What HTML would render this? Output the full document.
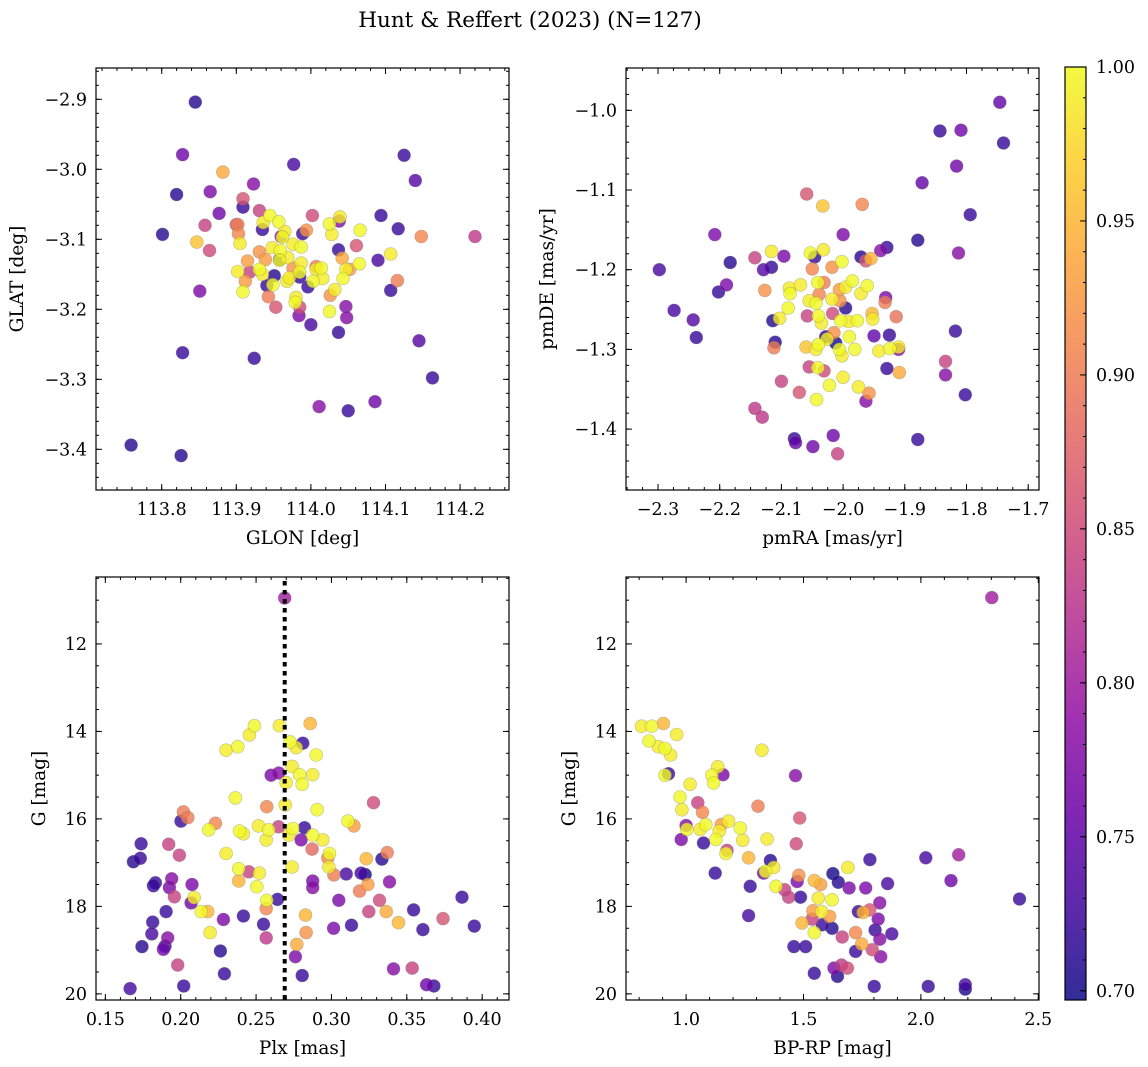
<!DOCTYPE html>
<html><head><meta charset="utf-8"><title>Hunt & Reffert (2023)</title>
<style>
html,body{margin:0;padding:0;background:#fff;}
svg{display:block;font-family:"DejaVu Serif","Liberation Serif",serif;}
</style></head>
<body>
<svg id="fig" width="1148" height="1067" viewBox="0 0 1148 1067" xmlns="http://www.w3.org/2000/svg">
<defs>
<linearGradient id="plasma" x1="0" y1="1" x2="0" y2="0">
<stop offset="0" stop-color="#0d0887"/><stop offset="0.1" stop-color="#41049d"/><stop offset="0.2" stop-color="#6a00a8"/><stop offset="0.3" stop-color="#8f0da4"/><stop offset="0.4" stop-color="#b12a90"/><stop offset="0.5" stop-color="#cc4778"/><stop offset="0.6" stop-color="#e16462"/><stop offset="0.7" stop-color="#f2844b"/><stop offset="0.8" stop-color="#fca636"/><stop offset="0.9" stop-color="#fcce25"/><stop offset="1" stop-color="#f0f921"/>
</linearGradient>
</defs>
<text x="530" y="27" font-size="21.5" text-anchor="middle">Hunt &amp; Reffert (2023) (N=127)</text>
</svg>
<script>
// ---- Panel 1: GLON vs GLAT ----
const glon = [113.845,113.820,113.801,113.909,113.935,113.977,114.094,114.117,114.125,114.140,114.090,114.107,113.996,113.951,113.941,113.958,114.037,113.989,113.828,113.924,113.759,113.826,114.050,114.037,114.000,114.145,114.163,113.985,
113.828,113.865,113.877,113.923,113.851,114.011,114.086,114.047,114.048,113.984,114.038,113.960,
113.858,113.864,113.909,113.931,114.002,114.061,113.953,113.900,114.220,113.985,113.918,
113.882,113.847,113.902,113.903,113.915,113.931,113.939,113.943,113.912,113.994,114.042,114.052,114.148,114.116,114.026,113.976,114.007,
113.905,113.945,113.936,113.957,113.965,113.962,113.976,113.987,113.948,113.959,113.969,113.958,113.987,113.985,113.902,113.931,113.935,113.949,113.968,114.003,114.007,114.014,114.016,114.043,114.047,114.065,114.107,114.066,114.028,114.025,114.039,113.909,113.980,113.979,114.032,114.025,113.971];
const glat = [-2.904,-3.036,-3.093,-3.054,-3.086,-2.993,-3.066,-3.085,-2.980,-3.016,-3.130,-3.173,-3.168,-3.152,-3.166,-3.129,-3.115,-3.092,-3.262,-3.270,-3.394,-3.409,-3.345,-3.233,-3.222,-3.245,-3.298,-3.154,
-2.979,-3.032,-3.063,-3.021,-3.174,-3.339,-3.332,-3.196,-3.212,-3.209,-3.074,-3.096,
-3.080,-3.116,-3.042,-3.059,-3.066,-3.109,-3.197,-3.079,-3.096,-3.197,-3.147,
-3.004,-3.104,-3.079,-3.092,-3.131,-3.118,-3.129,-3.182,-3.160,-3.087,-3.127,-3.143,-3.096,-3.159,-3.180,-3.141,-3.139,
-3.106,-3.066,-3.076,-3.075,-3.089,-3.097,-3.107,-3.111,-3.112,-3.116,-3.126,-3.130,-3.134,-3.147,-3.146,-3.143,-3.150,-3.165,-3.160,-3.160,-3.143,-3.141,-3.156,-3.156,-3.143,-3.135,-3.121,-3.087,-3.093,-3.078,-3.068,-3.175,-3.183,-3.190,-3.172,-3.203,-3.155];
const prob1 = [0.71,0.71,0.71,0.72,0.72,0.73,0.72,0.72,0.72,0.74,0.73,0.72,0.72,0.71,0.72,0.71,0.72,0.72,0.72,0.72,0.71,0.71,0.72,0.72,0.73,0.74,0.72,0.72,
0.76,0.77,0.76,0.78,0.77,0.78,0.76,0.78,0.78,0.77,0.78,0.79,
0.84,0.85,0.86,0.84,0.85,0.86,0.86,0.87,0.83,0.85,0.84,
0.94,0.96,0.90,0.91,0.93,0.92,0.93,0.90,0.93,0.92,0.94,0.93,0.91,0.90,0.92,0.92,0.90,
0.99,1.0,0.99,1.0,0.99,1.0,0.99,1.0,0.99,1.0,0.99,1.0,0.99,1.0,0.99,1.0,0.99,1.0,0.99,1.0,0.99,1.0,0.99,1.0,0.99,1.0,0.99,1.0,0.99,1.0,0.99,1.0,0.99,1.0,0.99,1.0,0.99];

// ---- Panel 2: pmRA vs pmDE ----
const pmra = [-2.116,-2.053,-2.032,-2.002,-2.087,-2.086,-2.069,-2.041,-1.996,-1.985,-1.971,-1.961,-2.055,-2.044,-2.018,-2.089,-2.103,-2.040,-2.035,-2.004,-1.991,-1.977,-1.952,-1.990,-2.026,-2.040,-2.044,-2.006,-2.002,-1.981,-1.942,-1.924,-1.910,-2.041,-2.000,-2.022,-1.975,-2.043,
-2.033,-1.969,-2.059,-2.127,-2.050,-2.018,-2.031,-2.039,-2.006,-2.005,-1.953,-1.932,-1.914,-2.015,-2.060,-2.112,-1.909,-1.958,-1.955,
-2.143,-2.058,-2.017,-2.055,-2.031,-2.100,-2.071,-2.143,-2.131,-1.834,-2.009,-1.963,
-2.208,-2.183,-2.189,-2.202,-2.274,-2.243,-2.238,-2.298,-2.129,-2.116,-2.096,-2.046,-2.000,-1.971,-1.929,-1.939,-1.879,-1.996,-1.931,-2.114,-2.110,-2.028,-2.012,-1.950,-1.925,-1.929,-1.910,-1.963,-2.079,-2.077,-2.049,-2.016,-1.879,-1.802,-1.818,-1.834,-1.813,-1.872,-1.843,-1.809,-1.816,-1.794,-1.746,-1.740];
const pmde = [-1.177,-1.179,-1.175,-1.190,-1.223,-1.230,-1.219,-1.216,-1.222,-1.214,-1.230,-1.220,-1.239,-1.242,-1.237,-1.248,-1.261,-1.258,-1.267,-1.264,-1.265,-1.264,-1.262,-1.284,-1.287,-1.294,-1.300,-1.300,-1.308,-1.300,-1.302,-1.299,-1.297,-1.323,-1.335,-1.345,-1.347,-1.363,
-1.120,-1.118,-1.105,-1.226,-1.199,-1.197,-1.216,-1.231,-1.225,-1.239,-1.255,-1.241,-1.259,-1.279,-1.297,-1.298,-1.329,-1.355,-1.186,
-1.185,-1.258,-1.255,-1.322,-1.327,-1.340,-1.354,-1.374,-1.385,-1.315,-1.431,-1.189,
-1.156,-1.191,-1.219,-1.228,-1.251,-1.263,-1.285,-1.200,-1.200,-1.197,-1.183,-1.184,-1.156,-1.184,-1.172,-1.176,-1.163,-1.248,-1.235,-1.264,-1.291,-1.284,-1.292,-1.283,-1.282,-1.324,-1.300,-1.365,-1.412,-1.417,-1.422,-1.408,-1.413,-1.357,-1.277,-1.332,-1.179,-1.091,-1.026,-1.025,-1.070,-1.131,-0.990,-1.041];
const prob2 = [0.99,1.0,0.99,1.0,0.99,1.0,0.99,1.0,0.99,1.0,0.99,1.0,0.99,1.0,0.99,1.0,0.99,1.0,0.99,1.0,0.99,1.0,0.99,1.0,0.99,1.0,0.99,1.0,0.99,1.0,0.99,1.0,0.99,1.0,0.99,1.0,0.99,1.0,
0.96,0.91,0.86,0.92,0.91,0.92,0.90,0.91,0.93,0.92,0.95,0.90,0.89,0.92,0.96,0.90,0.94,0.92,0.95,
0.84,0.84,0.85,0.84,0.85,0.84,0.86,0.83,0.83,0.84,0.84,0.86,
0.77,0.71,0.77,0.72,0.73,0.74,0.72,0.73,0.74,0.72,0.77,0.72,0.77,0.71,0.72,0.78,0.71,0.71,0.77,0.71,0.71,0.71,0.70,0.75,0.72,0.72,0.78,0.78,0.72,0.75,0.76,0.76,0.72,0.72,0.72,0.78,0.78,0.75,0.72,0.76,0.76,0.72,0.75,0.72];

// ---- Panel 3: Plx vs G ----
const plx = [0.2655,0.2489,0.2456,0.2379,0.2301,0.2726,0.2766,0.2899,0.2739,0.2788,0.2876,0.2806,0.2699,0.2363,0.2693,0.2905,0.2516,0.2584,0.2567,0.2390,0.2416,0.2744,0.2717,0.2876,0.2943,0.2186,0.2301,0.2987,0.2983,0.2385,0.2522,0.2505,0.2739,0.2571,0.2089,0.2135,0.2195,0.3109,
0.2859,0.2571,0.2018,0.2047,0.2230,0.3149,0.3231,0.2976,0.3370,0.3242,0.3186,0.3016,0.2872,0.3363,0.3445,0.2828,0.2832,0.2770,0.2385,0.2179,0.2567,
0.1920,0.1991,0.3279,0.1958,0.3319,0.3248,0.3740,0.2567,0.3536,0.1980,0.2452,0.2649,
0.2600,0.2651,0.2799,0.2876,0.2876,0.1940,0.1925,0.2075,0.2069,0.3049,0.3014,0.3385,0.2283,0.2761,0.3412,0.1885,0.3631,0.1914,0.2690,
0.1737,0.1732,0.1686,0.1814,0.1808,0.1743,0.1832,0.1819,0.1903,0.2002,0.2642,0.2821,0.2810,0.3335,0.3098,0.3197,0.3224,0.3545,0.3607,0.3866,0.3948,0.3133,0.2416,0.2263,0.2290,0.2020,0.1664,0.2806,0.3680,0.1896,0.2549];
const gmag3 = [13.87,13.87,14.08,14.35,14.43,14.24,14.37,14.54,14.80,14.99,14.99,15.21,15.17,15.52,15.68,15.79,16.16,16.25,16.48,16.28,16.34,16.22,16.37,16.37,16.48,16.25,16.79,16.79,17.10,17.14,17.24,17.55,17.10,17.86,17.80,18.12,18.60,16.05,
13.82,15.72,15.84,15.97,16.10,16.16,16.91,16.89,16.77,17.50,17.65,17.28,16.69,18.12,18.37,18.20,18.60,18.87,17.42,18.12,18.05,
16.58,16.83,15.63,17.78,17.86,18.12,18.28,18.72,19.41,19.34,17.21,16.18,
15.00,14.95,16.48,17.42,17.57,17.37,17.57,17.50,17.92,17.86,18.50,17.44,18.30,19.15,19.43,18.98,19.79,18.72,10.95,
16.57,16.90,16.98,18.36,18.63,18.92,17.46,17.53,18.12,16.05,17.84,16.20,14.27,16.92,17.26,17.24,17.27,18.08,18.53,17.79,18.45,18.43,18.22,19.02,19.54,19.82,19.88,19.58,19.82,18.91,18.41];
const prob3 = [0.99,1.0,0.99,1.0,0.99,1.0,0.99,1.0,0.99,1.0,0.99,1.0,0.99,1.0,0.99,1.0,0.99,1.0,0.99,1.0,0.99,1.0,0.99,1.0,0.99,1.0,0.99,1.0,0.99,1.0,0.99,1.0,0.99,1.0,0.99,1.0,0.99,1.0,
0.95,0.91,0.90,0.90,0.91,0.93,0.95,0.91,0.90,0.93,0.90,0.90,0.88,0.94,0.95,0.95,0.92,0.94,0.95,0.95,0.91,
0.84,0.84,0.85,0.84,0.85,0.84,0.86,0.83,0.84,0.84,0.84,0.84,
0.77,0.78,0.77,0.77,0.78,0.78,0.77,0.77,0.76,0.77,0.77,0.78,0.77,0.77,0.78,0.76,0.76,0.78,0.80,
0.72,0.72,0.71,0.72,0.73,0.71,0.72,0.72,0.72,0.72,0.72,0.72,0.72,0.71,0.73,0.73,0.70,0.72,0.72,0.72,0.72,0.72,0.72,0.71,0.72,0.72,0.73,0.72,0.72,0.72,0.72];

// ---- Panel 4: BP-RP vs G ----
const bprp = [0.810,0.853,0.960,0.842,0.882,0.910,0.934,0.910,1.017,0.974,0.982,1.110,1.135,1.117,1.323,1.003,1.060,1.084,1.141,1.127,1.181,1.231,1.241,1.170,1.345,1.338,1.373,1.383,1.689,1.546,1.577,1.622,1.563,
0.903,1.070,1.306,1.266,1.480,1.546,1.573,1.494,1.540,1.611,1.754,1.722,1.748,1.150,
1.050,1.484,1.469,1.174,1.437,1.665,1.793,1.782,1.662,1.687,1.420,1.537,
1.466,1.157,0.979,1.000,1.330,1.473,1.694,1.825,1.818,1.825,1.829,2.161,2.128,2.302,1.765,1.630,
0.925,1.074,1.124,1.273,1.266,1.359,1.487,1.625,1.648,1.783,1.858,2.021,1.734,1.805,1.876,1.722,1.459,1.509,1.546,1.645,1.801,2.031,2.189,2.189,2.420,1.580,1.622];
const gmag4 = [13.88,13.88,14.07,14.22,14.35,14.39,14.54,15.00,15.21,15.50,15.79,15.00,14.81,15.18,14.43,16.24,16.24,16.13,16.28,16.47,16.05,16.21,16.49,16.79,16.46,17.20,17.11,17.54,17.11,18.60,18.12,17.85,17.81,
13.82,15.85,15.71,16.89,17.29,17.41,17.50,18.38,18.10,18.23,18.14,18.60,18.86,16.13,
15.63,15.98,16.57,16.72,17.79,18.70,18.99,18.08,19.34,19.41,17.62,18.29,
15.01,14.99,16.47,16.15,17.24,17.43,17.58,17.92,18.29,18.75,19.15,16.82,17.41,10.94,17.58,19.41,
14.97,16.55,17.24,17.54,18.21,16.95,17.79,17.25,17.45,16.93,17.48,16.89,18.12,18.54,18.63,19.03,18.92,18.92,19.53,19.60,19.83,19.83,19.79,19.89,17.83,18.42,18.50];
const prob4 = [0.99,1.0,0.99,1.0,0.99,1.0,0.99,1.0,0.99,1.0,0.99,1.0,0.99,1.0,0.99,1.0,0.99,1.0,0.99,1.0,0.99,1.0,0.99,1.0,0.99,1.0,0.99,1.0,0.99,1.0,0.99,1.0,0.99,
0.95,0.91,0.90,0.95,0.92,0.95,0.93,0.95,0.93,0.93,0.95,0.91,0.94,0.93,
0.84,0.86,0.85,0.84,0.84,0.84,0.85,0.86,0.83,0.85,0.84,0.84,
0.78,0.77,0.77,0.78,0.77,0.77,0.77,0.78,0.77,0.78,0.78,0.80,0.76,0.80,0.77,0.77,
0.72,0.72,0.72,0.72,0.73,0.71,0.72,0.70,0.71,0.72,0.73,0.73,0.72,0.72,0.73,0.72,0.72,0.72,0.72,0.71,0.72,0.72,0.73,0.70,0.72,0.72,0.71];

const plxRef = [0.269];
const cbTicks = [0.70,0.75,0.80,0.85,0.90,0.95,1.00];

const NS = 'http://www.w3.org/2000/svg';
const svg = document.getElementById('fig');
const VMIN = 0.697, VMAX = 1.0;
const TICK_FS = 17.5, LABEL_FS = 18.5;
const stops = [[13,8,135],[65,4,157],[106,0,168],[143,13,164],[177,42,144],[204,71,120],[225,100,98],[242,132,75],[252,166,54],[252,206,37],[240,249,33]];
function plasma(v){
  let t = (v - VMIN) / (VMAX - VMIN); t = Math.max(0, Math.min(1, t));
  const f = t * 10, i = Math.min(9, Math.floor(f)), r = f - i;
  const a = stops[i], b = stops[i+1];
  return 'rgb(' + [0,1,2].map(k => Math.round(a[k] + (b[k]-a[k]) * r)).join(',') + ')';
}
function mk(tag, attrs, parent){
  const e = document.createElementNS(NS, tag);
  for (const k in attrs) e.setAttribute(k, attrs[k]);
  (parent || svg).appendChild(e);
  return e;
}
function scale(d0, d1, r0, r1){ return v => r0 + (v - d0) / (d1 - d0) * (r1 - r0); }
function fmt(v, dec){ return (v < 0 ? '\u2212' : '') + Math.abs(v).toFixed(dec); }

function panel(cfg){
  const {name, box, xd, yd, xMaj, xMin, yMaj, yMin, xDec, yDec, xs, ys, ps, xlabel, ylabel, ylabelX} = cfg;
  const g = mk('g', {});
  
  
  const sx = scale(xd[0], xd[1], box[0], box[1]);
  const sy = scale(yd[0], yd[1], box[2], box[3]);
  const idx = ps.map((p, i) => i).sort((a, b) => ps[a] - ps[b]);
  const pg = mk('g', {}, g);
  
  
  for (const i of idx){
    const c = mk('circle', {cx: sx(xs[i]).toFixed(1), cy: sy(ys[i]).toFixed(1), r: 6.5, fill: plasma(ps[i]), 'fill-opacity': 0.8, stroke: '#777', 'stroke-opacity': 0.45, 'stroke-width': 0.6}, pg);
    
    
  }
  if (cfg.refLine){
    for (const v of cfg.refLine){
      const l = mk('line', {x1: sx(v), x2: sx(v), y1: box[2] + 4, y2: box[3], stroke: '#000', 'stroke-width': 4, 'stroke-dasharray': '4.5,4.5'}, g);
      
      
    }
  }
  const fr = mk('rect', {x: box[0], y: box[2], width: box[1]-box[0], height: box[3]-box[2], fill: 'none', stroke: '#000', 'stroke-width': 1.2}, g);
  
  
  const tk = mk('g', {stroke: '#000', 'stroke-width': 1}, g);
  
  
  const xlo = Math.min(xd[0], xd[1]), xhi = Math.max(xd[0], xd[1]);
  const ylo = Math.min(yd[0], yd[1]), yhi = Math.max(yd[0], yd[1]);
  function steps(lo, hi, st){ const a = []; for (let v = Math.ceil(lo/st - 1e-6)*st; v <= hi + 1e-9; v += st) a.push(+v.toFixed(6)); return a; }
  for (const v of steps(xlo, xhi, xMin)){ const x = sx(v); mk('line', {x1:x,x2:x,y1:box[3],y2:box[3]-3}, tk); mk('line', {x1:x,x2:x,y1:box[2],y2:box[2]+3}, tk); }
  for (const v of steps(ylo, yhi, yMin)){ const y = sy(v); mk('line', {x1:box[0],x2:box[0]+3,y1:y,y2:y}, tk); mk('line', {x1:box[1],x2:box[1]-3,y1:y,y2:y}, tk); }
  for (const v of steps(xlo, xhi, xMaj)){
    const x = sx(v);
    mk('line', {x1:x,x2:x,y1:box[3],y2:box[3]-6}, tk); mk('line', {x1:x,x2:x,y1:box[2],y2:box[2]+6}, tk);
    const t = mk('text', {x: x, y: box[3] + 25, 'font-size': TICK_FS, 'text-anchor': 'middle'}, g);
    t.textContent = fmt(v, xDec);
    
    
  }
  for (const v of steps(ylo, yhi, yMaj)){
    const y = sy(v);
    mk('line', {x1:box[0],x2:box[0]+6,y1:y,y2:y}, tk); mk('line', {x1:box[1],x2:box[1]-6,y1:y,y2:y}, tk);
    const t = mk('text', {x: box[0] - 9, y: y + 6, 'font-size': TICK_FS, 'text-anchor': 'end'}, g);
    t.textContent = fmt(v, yDec);
    
    
  }
  const xl = mk('text', {x: (box[0]+box[1])/2, y: box[3] + 54, 'font-size': LABEL_FS, 'text-anchor': 'middle'}, g);
  xl.textContent = xlabel;
  
  
  const cy = (box[2]+box[3])/2;
  const yl = mk('text', {x: ylabelX, y: cy, 'font-size': LABEL_FS, 'text-anchor': 'middle', transform: 'rotate(-90 ' + ylabelX + ' ' + cy + ')'}, g);
  yl.textContent = ylabel;
  
  
}

panel({name:'glon-glat-panel', box:[96,509,68,490], xd:[113.7119,114.2656], yd:[-2.8553,-3.4581], xMaj:0.1, xMin:0.02, yMaj:0.1, yMin:0.02, xDec:1, yDec:1, xs:glon, ys:glat, ps:prob1, xlabel:'GLON [deg]', ylabel:'GLAT [deg]', ylabelX:23});
panel({name:'pm-panel', box:[626,1039,68,490], xd:[-2.3519,-1.6825], yd:[-0.9469,-1.4764], xMaj:0.1, xMin:0.025, yMaj:0.1, yMin:0.02, xDec:1, yDec:1, xs:pmra, ys:pmde, ps:prob2, xlabel:'pmRA [mas/yr]', ylabel:'pmDE [mas/yr]', ylabelX:553});
panel({name:'plx-g-panel', box:[96,509,577,1000], xd:[0.1438,0.4178], yd:[10.47,20.14], xMaj:0.05, xMin:0.01, yMaj:2, yMin:0.5, xDec:2, yDec:0, xs:plx, ys:gmag3, ps:prob3, xlabel:'Plx [mas]', ylabel:'G [mag]', ylabelX:45, refLine:plxRef});
panel({name:'cmd-panel', box:[626,1039,577,1000], xd:[0.744,2.503], yd:[10.47,20.14], xMaj:0.5, xMin:0.1, yMaj:2, yMin:0.5, xDec:1, yDec:0, xs:bprp, ys:gmag4, ps:prob4, xlabel:'BP-RP [mag]', ylabel:'G [mag]', ylabelX:575});

// ---- Colorbar ----
const cb = mk('g', {});


const cbTop = 67, cbBot = 1000, cbX = 1065, cbW = 21;
const cs = scale(VMIN, VMAX, cbBot, cbTop);
mk('rect', {x: cbX, y: cbTop, width: cbW, height: cbBot - cbTop, fill: 'url(#plasma)', 'fill-opacity': 0.85}, cb);
mk('rect', {x: cbX, y: cbTop, width: cbW, height: cbBot - cbTop, fill: 'none', stroke: '#000', 'stroke-width': 1.2}, cb);
for (let v = 0.70; v <= 1.0001; v += 0.01){
  const y = cs(v);
  mk('line', {x1: cbX + cbW, x2: cbX + cbW - 3, y1: y, y2: y, stroke: '#000'}, cb);
}
for (const v of cbTicks){
  const y = cs(v);
  mk('line', {x1: cbX + cbW, x2: cbX + cbW - 6, y1: y, y2: y, stroke: '#000'}, cb);
  const t = mk('text', {x: cbX + cbW + 10, y: y + 6, 'font-size': TICK_FS}, cb);
  t.textContent = v.toFixed(2);
  
  
}
</script>
</body></html>
